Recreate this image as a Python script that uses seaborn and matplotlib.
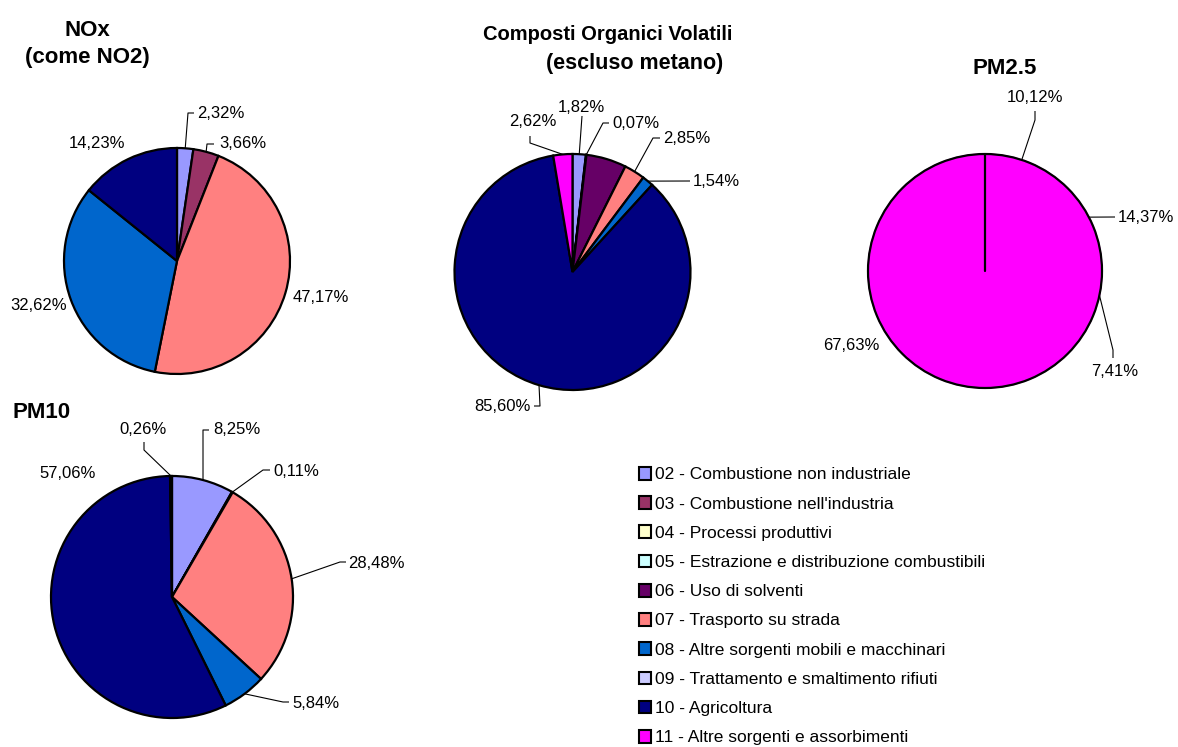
import matplotlib
matplotlib.use("Agg")
import matplotlib.pyplot as plt
import seaborn as sns
import numpy as np
from matplotlib.patches import Patch

# ---------------- data ----------------
categories = [
    "02 - Combustione non industriale",
    "03 - Combustione nell'industria",
    "04 - Processi produttivi",
    "05 - Estrazione e distribuzione combustibili",
    "06 - Uso di solventi",
    "07 - Trasporto su strada",
    "08 - Altre sorgenti mobili e macchinari",
    "09 - Trattamento e smaltimento rifiuti",
    "10 - Agricoltura",
    "11 - Altre sorgenti e assorbimenti",
]
category_codes = ["02", "03", "04", "05", "06", "07", "08", "09", "10", "11"]
category_colors = ["#9999FF", "#993366", "#FFFFCC", "#CCFFFF", "#660066",
                   "#FF8080", "#0066CC", "#CCCCFF", "#000080", "#FF00FF"]

nox_codes = ["02", "03", "07", "08", "10"]
nox_values = [2.32, 3.66, 47.17, 32.62, 14.23]

cov_codes = ["02", "03", "06", "07", "08", "10", "11"]
cov_values = [1.82, 0.07, 5.50, 2.85, 1.54, 85.60, 2.62]

pm25_codes = ["11", "11", "11", "11"]
pm25_values = [10.12, 14.37, 7.41, 67.63]

pm10_codes = ["02", "03", "07", "08", "10", "11"]
pm10_values = [8.25, 0.11, 28.48, 5.84, 57.06, 0.26]

# ---------------- style ----------------
W, H, DPI = 1178, 747, 100
sns.set_theme(style="white")
plt.rcParams["font.family"] = ["Liberation Sans", "DejaVu Sans"]
plt.rcParams["text.color"] = "black"

color_of = dict(zip(category_codes, category_colors))
fig = plt.figure(figsize=(W / DPI, H / DPI), dpi=DPI)
fig.patch.set_facecolor("white")

LABEL_FS = 12
EDGE_LW = 1.6
LEADER_LW = 0.8


def fmt(v):
    return f"{v:.2f}%".replace(".", ",")


def make_axes(cx, cy, r):
    ax = fig.add_axes([(cx - r) / W, 1 - (cy + r) / H, 2 * r / W, 2 * r / H])
    return ax


def to_pie(cx, cy, r, px, py):
    return (px - cx) / r, (cy - py) / r


def draw_pie(cx, cy, r, values, colors, layout, edges=True):
    ax = make_axes(cx, cy, r)
    wp = dict(edgecolor="black", linewidth=EDGE_LW) if edges else dict(linewidth=1)
    wedges, _ = ax.pie(values, colors=colors, startangle=90, counterclock=False,
                       radius=1, wedgeprops=wp)
    if not edges:
        for w in wedges:
            w.set_edgecolor(w.get_facecolor())
    ax.set_xlim(-1, 1)
    ax.set_ylim(-1, 1)
    ax.axis("off")
    for w, v, lay in zip(wedges, values, layout):
        if lay is None:
            continue
        (tx, ty), ha, path = lay
        u, vv = to_pie(cx, cy, r, tx, ty)
        ax.text(u, vv, fmt(v), ha=ha, va="center", fontsize=LABEL_FS,
                color="black", clip_on=False)
        if path:
            ang = np.deg2rad((w.theta1 + w.theta2) / 2)
            pts = [to_pie(cx, cy, r, px, py) for px, py in path]
            xs = [np.cos(ang)] + [p[0] for p in pts]
            ys = [np.sin(ang)] + [p[1] for p in pts]
            ax.plot(xs, ys, color="black", lw=LEADER_LW, clip_on=False,
                    solid_capstyle="butt")
    return ax, wedges


# ---------------- NOx ----------------
nox_layout = [
    ((197, 113), "left", [(188, 113), (194, 113)]),
    ((219, 144), "left", [(207, 144), (214, 144)]),
    ((293, 298), "left", None),
    ((67, 306), "right", None),
    ((97, 144), "center", None),
]
draw_pie(177, 261, 113, nox_values, [color_of[c] for c in nox_codes], nox_layout)
fig.text(87 / W, 1 - 30 / H, "NOx", ha="center", va="center",
         fontsize=16, fontweight="bold")
fig.text(87 / W, 1 - 57 / H, "(come NO2)", ha="center", va="center",
         fontsize=16, fontweight="bold")

# ---------------- COV ----------------
cov_layout = [
    ((581, 107), "center", [(582, 116)]),
    ((612, 123), "left", [(603, 123), (609, 123)]),
    None,
    ((663, 138), "left", [(653, 138), (660, 138)]),
    ((693, 181), "left", [(690, 181)]),
    ((531, 406), "right", [(540, 406), (534, 406)]),
    ((556, 121), "right", [(530, 143), (530, 136)]),
]
draw_pie(572.5, 272, 118, cov_values, [color_of[c] for c in cov_codes], cov_layout)
fig.text(608 / W, 1 - 34 / H, "Composti Organici Volatili", ha="center",
         va="center", fontsize=14.5, fontweight="bold")
fig.text(635 / W, 1 - 63 / H, "(escluso metano)", ha="center",
         va="center", fontsize=15.5, fontweight="bold")

# ---------------- PM2.5 ----------------
pm25_layout = [
    ((1035, 97), "center", [(1035, 120), (1035, 111)]),
    ((1118, 217), "left", [(1115, 217)]),
    ((1115, 372), "center", [(1113, 350), (1113, 358)]),
    ((851, 345), "center", None),
]
ax25, _ = draw_pie(985, 271, 117, pm25_values,
                   [color_of[c] for c in pm25_codes], pm25_layout, edges=False)
# outline of the (single coloured) disc and its start edge
ax25.pie([sum(pm25_values)], colors=["none"], startangle=90, counterclock=False,
         radius=1, wedgeprops=dict(edgecolor="black", linewidth=EDGE_LW))
ax25.plot([0, np.cos(np.deg2rad(90))], [0, np.sin(np.deg2rad(90))],
          color="black", lw=EDGE_LW)
ax25.set_xlim(-1, 1)
ax25.set_ylim(-1, 1)
fig.text(1005 / W, 1 - 68 / H, "PM2.5", ha="center", va="center",
         fontsize=16, fontweight="bold")

# ---------------- PM10 ----------------
pm10_layout = [
    ((213, 430), "left", [(203, 430), (209, 430)]),
    ((273, 471), "left", [(263, 470), (270, 470)]),
    ((348, 563), "left", [(340, 562), (346, 562)]),
    ((292, 703), "left", [(283, 702), (289, 702)]),
    ((68, 474), "center", None),
    ((143.5, 430), "center", [(144, 450), (144, 442)]),
]
draw_pie(172, 597, 121, pm10_values, [color_of[c] for c in pm10_codes], pm10_layout)
fig.text(12 / W, 1 - 412 / H, "PM10", ha="left", va="center",
         fontsize=16, fontweight="bold")

# ---------------- legend ----------------
handles = [Patch(facecolor=c, edgecolor="black", linewidth=1.5) for c in category_colors]
fig.legend(handles, categories, loc="upper left",
           bbox_to_anchor=(639 / W, 1 - 467 / H), frameon=False,
           fontsize=12.5, handlelength=0.7, handleheight=0.75,
           handletextpad=0.25, labelspacing=0.795, borderpad=0, borderaxespad=0)

fig.savefig("out.png", dpi=DPI, facecolor="white")
